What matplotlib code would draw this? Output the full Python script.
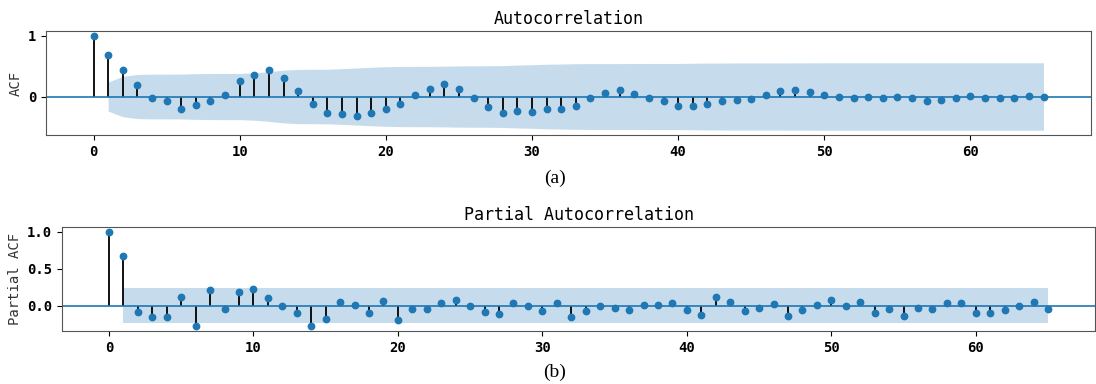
import numpy as np
import matplotlib
matplotlib.use("Agg")
import matplotlib.pyplot as plt

# ACF values, lags 0..65
acf_vals = [1.0, 0.68, 0.43, 0.19, -0.03, -0.07, -0.21, -0.14, -0.08, 0.03,
            0.26, 0.36, 0.43, 0.31, 0.09, -0.12, -0.27, -0.29, -0.32, -0.27,
            -0.21, -0.12, 0.03, 0.13, 0.21, 0.12, -0.03, -0.18, -0.27, -0.23,
            -0.26, -0.21, -0.20, -0.15, -0.02, 0.06, 0.10, 0.04, -0.03, -0.08,
            -0.16, -0.16, -0.12, -0.07, -0.05, -0.04, 0.03, 0.09, 0.10, 0.08,
            0.03, -0.01, -0.02, -0.01, -0.02, -0.01, -0.03, -0.07, -0.05, -0.02,
            0.01, -0.02, -0.03, -0.02, 0.01, -0.01]
# confidence band half-width for lags 1..65
acf_band = [0.239, 0.332, 0.363, 0.368, 0.368, 0.369, 0.376, 0.379, 0.380, 0.380,
            0.390, 0.409, 0.434, 0.446, 0.448, 0.449, 0.459, 0.469, 0.481, 0.490,
            0.495, 0.497, 0.497, 0.499, 0.504, 0.505, 0.506, 0.509, 0.517, 0.523,
            0.531, 0.535, 0.540, 0.542, 0.542, 0.542, 0.543, 0.544, 0.544, 0.544,
            0.547, 0.550, 0.551, 0.552, 0.552, 0.552, 0.552, 0.553, 0.554, 0.555,
            0.555, 0.555, 0.555, 0.555, 0.555, 0.555, 0.555, 0.555, 0.555, 0.555,
            0.555, 0.555, 0.555, 0.555, 0.555]

# PACF values, lags 0..65
pacf_vals = [1.0, 0.67, -0.08, -0.16, -0.16, 0.12, -0.28, 0.21, -0.05, 0.19,
             0.22, 0.10, 0.0, -0.10, -0.28, -0.18, 0.05, 0.01, -0.10, 0.06,
             -0.20, -0.04, -0.04, 0.03, 0.07, -0.01, -0.08, -0.11, 0.03, -0.01,
             -0.07, 0.03, -0.15, -0.07, -0.01, -0.03, -0.06, 0.01, 0.01, 0.04,
             -0.06, -0.13, 0.12, 0.05, -0.07, -0.03, 0.02, -0.14, -0.06, 0.005,
             0.08, -0.01, 0.05, -0.10, -0.05, -0.14, -0.03, -0.05, 0.04, 0.03,
             -0.10, -0.10, -0.06, 0.0, 0.05, -0.04]
pacf_band = [0.239] * 65

mono = "DejaVu Sans Mono"


def corr_plot(ax, vals, band, title, ylabel, yticks, yticklabels):
    lags = np.arange(len(vals))
    b = np.array(band)
    ax.vlines(lags, 0, vals, colors="black", linewidth=1.3)
    ax.axhline(0, color="C0", linewidth=1.2)
    ax.plot(lags, vals, "o", color="C0", markersize=4.6)
    ax.fill_between(lags[1:], -b, b, color="C0", alpha=0.25, linewidth=0)
    ax.margins(0.05)
    ax.set_title(title, family=mono, fontsize=12, pad=5)
    ax.set_ylabel(ylabel, family=mono, fontsize=10, color="#333333")
    ax.set_xticks([0, 10, 20, 30, 40, 50, 60])
    ax.set_yticks(yticks)
    ax.set_yticklabels(yticklabels)
    for lab in ax.get_xticklabels() + ax.get_yticklabels():
        lab.set_family(mono)
        lab.set_fontsize(10)
        lab.set_fontweight("bold")
    for s in ax.spines.values():
        s.set_color("#555555")


fig = plt.figure(figsize=(10.96, 3.84), dpi=100)

ax1 = fig.add_axes([46 / 1096, 1 - 135 / 384, 1045 / 1096, 104 / 384])
corr_plot(ax1, acf_vals, acf_band, "Autocorrelation", "ACF", [0, 1], ["0", "1"])

ax2 = fig.add_axes([62 / 1096, 1 - 331 / 384, 1033 / 1096, 104 / 384])
corr_plot(ax2, pacf_vals, pacf_band, "Partial Autocorrelation", "Partial ACF",
          [0.0, 0.5, 1.0], ["0.0", "0.5", "1.0"])

fig.text(555 / 1096, 1 - 178 / 384, "(a)", ha="center", va="center",
         family="Liberation Serif", fontsize=14)
fig.text(555 / 1096, 1 - 372 / 384, "(b)", ha="center", va="center",
         family="Liberation Serif", fontsize=14)

fig.savefig("out.png", dpi=100)
